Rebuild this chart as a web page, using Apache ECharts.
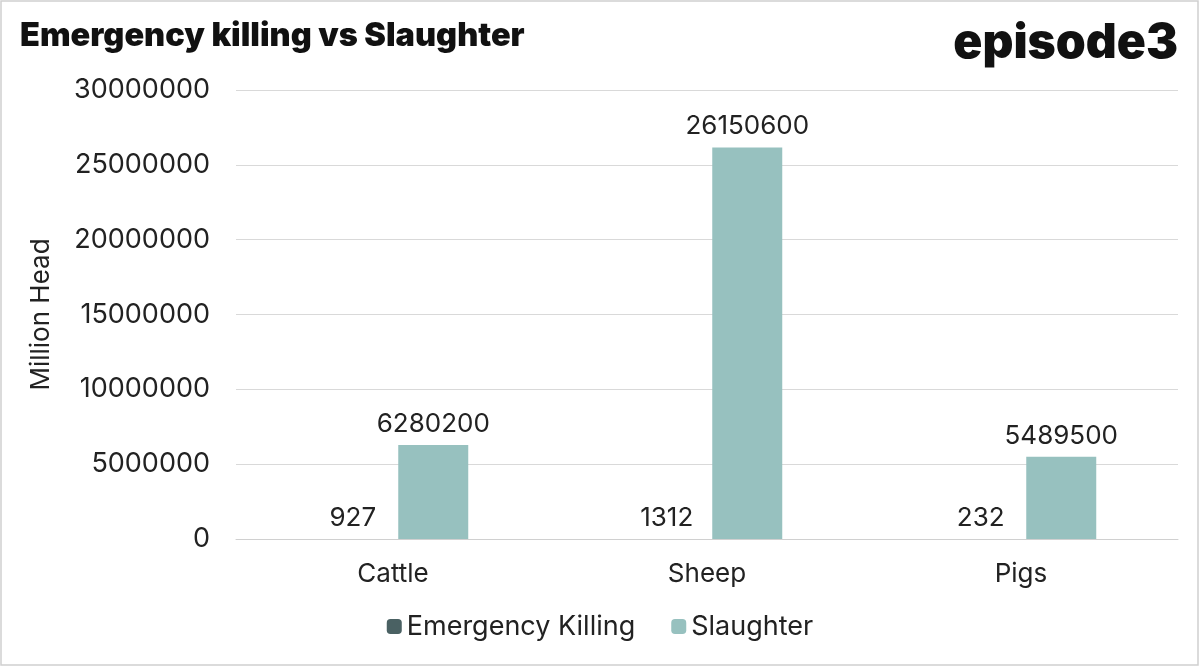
<!DOCTYPE html>
<html><head><meta charset="utf-8">
<script src="https://cdn.jsdelivr.net/npm/echarts@6/dist/echarts.min.js"></script>
<style>html,body{margin:0;background:#fff}#c{width:1200px;height:667px}</style>
</head><body><div id="c"></div>
<script>
var categories = ['Cattle', 'Sheep', 'Pigs'];
var emergency = [927, 1312, 232];
var slaughter = [6280200, 26150600, 5489500];

var chart = echarts.init(document.getElementById('c'));
var lbl = { show: true, position: 'top', distance: 8, fontSize: 26, color: '#222', fontFamily: 'Inter' };
chart.setOption({
  textStyle: { fontFamily: 'Inter' },
  graphic: [
    { type: 'rect', shape: { x: 1, y: 1, width: 1197, height: 664 }, style: { fill: 'none', stroke: '#d0d0d0', lineWidth: 1.5 } },
    { type: 'text', left: 20, top: 20, style: { text: 'Emergency killing vs Slaughter', font: '900 32.5px Inter', fill: '#111' } },
    { type: 'text', right: 22, top: 20, style: { text: 'episode3', font: '900 48px Inter', fill: '#111' } }
  ],
  grid: { left: 236, right: 22, top: 90, bottom: 128 },
  legend: {
    bottom: 22, left: 'center', itemWidth: 15, itemHeight: 15, itemGap: 36,
    textStyle: { fontSize: 27, color: '#222' },
    data: ['Emergency Killing', 'Slaughter']
  },
  xAxis: {
    type: 'category', data: categories,
    axisLine: { lineStyle: { color: '#d0d0d0' } }, axisTick: { show: false },
    axisLabel: { fontSize: 26, color: '#222', margin: 22 }
  },
  yAxis: {
    type: 'value', min: 0, max: 30000000, interval: 5000000,
    name: 'Million Head', nameLocation: 'middle', nameGap: 182,
    nameTextStyle: { fontSize: 26, color: '#222' },
    axisLabel: { fontSize: 27, color: '#222', margin: 26, formatter: function (v) { return String(v); } },
    splitLine: { lineStyle: { color: '#d9d9d9' } }
  },
  series: [
    { name: 'Emergency Killing', type: 'bar', data: emergency, barWidth: 70, barGap: '15%', itemStyle: { color: '#4a6163' }, label: lbl },
    { name: 'Slaughter', type: 'bar', data: slaughter, barWidth: 70, itemStyle: { color: '#97c1bf' }, label: lbl }
  ]
});
</script></body></html>
